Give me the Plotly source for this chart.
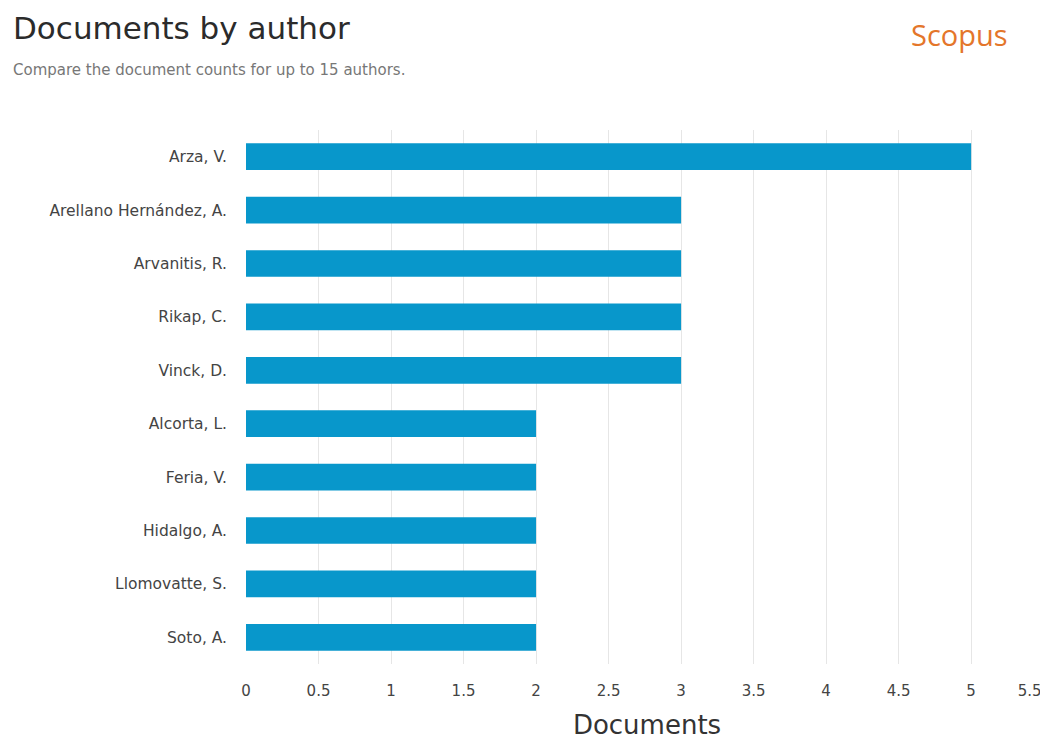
import plotly.graph_objects as go

authors = ["Arza, V.", "Arellano Hernández, A.", "Arvanitis, R.", "Rikap, C.", "Vinck, D.",
           "Alcorta, L.", "Feria, V.", "Hidalgo, A.", "Llomovatte, S.", "Soto, A."]
documents = [5, 3, 3, 3, 3, 2, 2, 2, 2, 2]
x_ticks = [0, 0.5, 1, 1.5, 2, 2.5, 3, 3.5, 4, 4.5, 5]
x_tick_labels = ["0", "0.5", "1", "1.5", "2", "2.5", "3", "3.5", "4", "4.5", "5"]
x_last_tick = [5.5]
x_last_label = ["5.5"]
x_range = [0, 5.53]

# page has an 8px body margin, so figure is offset by 8px
W, H = 1048, 734
L, R, T, B = 238, 8, 122, 78
W_plot = W - L - R
H_plot = H - T - B

def px(xp):  # reference pixel x -> paper
    return (xp - 8 - L) / W_plot

def py(yp):  # reference pixel y -> paper
    return 1 - (yp - 8 - T) / H_plot

fig = go.Figure()
fig.add_trace(go.Bar(
    x=documents, y=authors, orientation="h",
    marker=dict(color="#0897CB", line=dict(width=0)),
    width=0.5, xaxis="x", yaxis="y",
))
# invisible helper trace so the secondary x axis (last tick label) is rendered
fig.add_trace(go.Scatter(
    x=documents, y=authors, xaxis="x2", yaxis="y", mode="markers",
    marker=dict(opacity=0, size=1), hoverinfo="skip", showlegend=False,
))

tickfont = dict(size=15, color="#444444")

fig.update_layout(
    width=W, height=H,
    margin=dict(l=L, r=R, t=T, b=B, autoexpand=False),
    paper_bgcolor="white", plot_bgcolor="white",
    font=dict(family="DejaVu Sans", color="#333333"),
    showlegend=False,
    annotations=[
        dict(text="Documents by author", x=px(11), y=py(28), xref="paper", yref="paper",
             showarrow=False, xanchor="left", yanchor="middle",
             font=dict(size=31, color="#2b2b2b")),
        dict(text="Compare the document counts for up to 15 authors.", x=px(11), y=py(70),
             xref="paper", yref="paper", showarrow=False, xanchor="left", yanchor="middle",
             font=dict(size=15, color="#777777")),
        dict(text="Scopus", x=px(959), y=py(35), xref="paper", yref="paper",
             showarrow=False, xanchor="center", yanchor="middle",
             font=dict(size=29, color="#E4762A", family="Open Sans")),
    ],
    xaxis=dict(
        range=x_range, tickvals=x_ticks, ticktext=x_tick_labels,
        showgrid=True, gridcolor="#e6e6e6", gridwidth=1, zeroline=False,
        tickfont=tickfont, ticks="", ticklabelstandoff=16,
        ticklabeloverflow="allow",
        title=dict(text="Documents", font=dict(size=26, color="#333333"), standoff=16),
        showline=False, automargin=False,
    ),
    xaxis2=dict(
        overlaying="x", side="bottom", anchor="y", range=x_range,
        tickvals=x_last_tick, ticktext=x_last_label,
        showgrid=True, gridcolor="#e6e6e6", zeroline=False, showline=False,
        tickfont=tickfont, ticks="", ticklabelstandoff=16,
        ticklabelshift=-14, ticklabeloverflow="allow", automargin=False,
    ),
    yaxis=dict(
        range=[len(authors) - 0.5, -0.5], showgrid=False, zeroline=False,
        tickfont=dict(size=15.5, color="#444444"), ticks="", ticklabelstandoff=18,
        automargin=False,
    ),
)

fig.write_html("out.html")
